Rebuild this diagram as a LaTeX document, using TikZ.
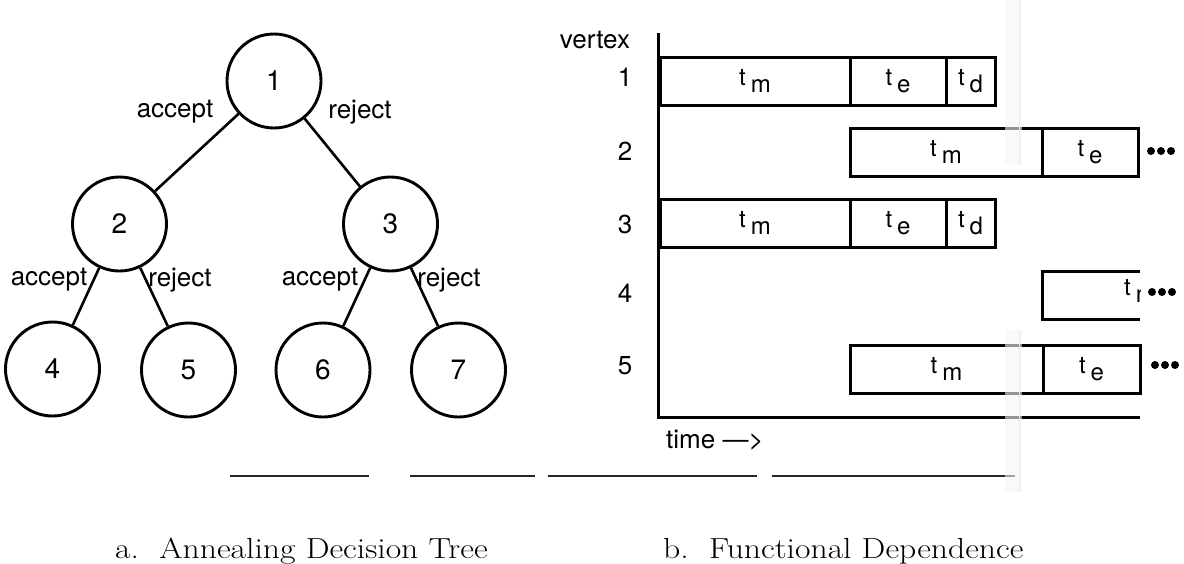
\documentclass[tikz,border=0pt]{standalone}
\usepackage{fontspec}
\newfontfamily\hv{TeX Gyre Heros}
\newcommand\tsub[1]{t\hspace{5pt}\raisebox{-7pt}{#1}}
\newcommand\gseg[5]{\node[seg, minimum width={(#3-#2)*1pt}] (#1) at ({(#2+#3)/2},#4) {#5};}
\begin{document}
\begin{tikzpicture}[x=1pt,y=-1pt,
  vnode/.style={circle, draw, line width=2.9pt, minimum size=94pt, inner sep=0pt,
                font=\hv\fontsize{28}{30}\selectfont},
  branch/.style={line width=2.6pt},
  blabel/.style={font=\hv\fontsize{26}{30}\selectfont, inner sep=0pt},
  seg/.style={draw, line width=3pt, minimum height=48pt, inner sep=0pt,
              font=\hv\fontsize{24}{28}\selectfont},
  axis/.style={line width=3pt},
  rule/.style={line width=1.4pt, black!85},
  caption/.style={font=\fontsize{29}{33}\selectfont, inner sep=0pt, anchor=base west}
]
\useasboundingbox (0,0) rectangle (1184,563);

% ---------- decision tree ----------
\node[vnode] (n1) at (274,81) {1};
\node[vnode] (n2) at (119.5,224) {2};
\node[vnode] (n3) at (390.5,224) {3};
\node[vnode] (n4) at (52.5,369) {4};
\node[vnode] (n5) at (188.5,370) {5};
\node[vnode] (n6) at (323,370) {6};
\node[vnode] (n7) at (458.5,370) {7};

\draw[branch] (n1) -- (n2);
\draw[branch] (n1) -- (n3);
\draw[branch] (n2) -- (n4);
\draw[branch] (n2) -- (n5);
\draw[branch] (n3) -- (n6);
\draw[branch] (n3) -- (n7);

\node[blabel] (l12) at (175,112) {accept};
\node[blabel] (l13) at (360,112) {reject};
\node[blabel] (l24) at (49,280) {accept};
\node[blabel] (l25) at (180,280) {reject};
\node[blabel] (l36) at (320,280) {accept};
\node[blabel] (l37) at (449,280) {reject};

% ---------- functional dependence chart ----------
\coordinate (ytop) at (658,33);
\coordinate (orig) at (658,417);
\coordinate (xend) at (1140,417);
\draw[axis] (ytop) -- (orig) -- (xend);

\node[blabel] (vx) at (595,40) {vertex};
\node[blabel] (v1) at (625,77) {1};
\node[blabel] (v2) at (625,151) {2};
\node[blabel] (v3) at (625,224) {3};
\node[blabel] (v4) at (625,293) {4};
\node[blabel] (v5) at (625,366) {5};
\node[blabel, anchor=west] (tm) at (666,440) {time \textemdash{}>};

\gseg{r1m}{660}{850}{81}{\tsub{m}}
\gseg{r1e}{850}{946}{81}{\tsub{e}}
\gseg{r1d}{946}{995}{81}{\tsub{d}}

\gseg{r2m}{850}{1042}{152}{\tsub{m}}
\gseg{r2e}{1042}{1138}{152}{\tsub{e}}

\gseg{r3m}{660}{850}{223}{\tsub{m}}
\gseg{r3e}{850}{946}{223}{\tsub{e}}
\gseg{r3d}{946}{995}{223}{\tsub{d}}

% vertex 4: box running past the edge of the chart
\coordinate (r4tr) at (1140,271);
\coordinate (r4bl) at (1042,319);
\coordinate (r4br) at (1140,319);
\draw[line width=3pt] (r4tr) -| (r4bl) -- (r4br);
\begin{scope}
  \clip (1040,260) rectangle (1140,330);
  \node[font=\hv\fontsize{24}{28}\selectfont, inner sep=0pt, anchor=west] (r4l) at (1124,291) {\tsub{m}};
\end{scope}

\gseg{r5m}{850}{1043}{369}{\tsub{m}}
\gseg{r5e}{1043}{1140}{369}{\tsub{e}}

% continuation dots
\foreach \dx in {0,10,20} {
  \fill (1151+\dx,151) circle (4pt);
  \fill (1152+\dx,292) circle (4pt);
  \fill (1155+\dx,365) circle (4pt);
}

% ---------- separating rule and captions ----------
\draw[rule] (230,476) -- (369,476);
\draw[rule] (410,476) -- (535,476);
\draw[rule] (548,476) -- (757,476);
\draw[rule] (772,476) -- (1015,476);

\node[caption] (capa) at (115,558) {\scalebox{1.16}[1]{a.\ \ Annealing Decision Tree}};
\node[caption] (capb) at (663,558) {\scalebox{1.16}[1]{b.\ \ Functional Dependence}};

% faint scanner streak
\fill[black!4, opacity=0.6] (1005,0) rectangle (1022,165);
\fill[black!4, opacity=0.6] (1005,330) rectangle (1022,492);
\draw[orange!20, line width=0.8pt] (1019,0) -- (1019,165);
\draw[orange!20, line width=0.8pt] (1019,330) -- (1019,492);
\end{tikzpicture}
\end{document}
